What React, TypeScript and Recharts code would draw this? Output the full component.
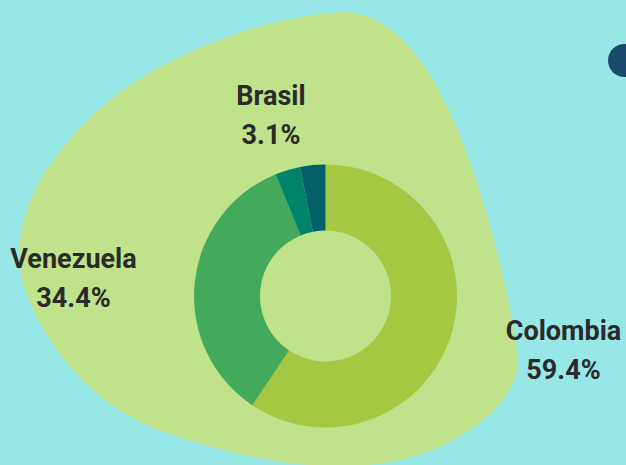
import React from 'react';
import { PieChart, Pie, Cell } from 'recharts';

const countries = ['Colombia', 'Venezuela', 'Brasil', 'Otros'];
const shares = [59.4, 34.4, 3.1, 3.1];
const sliceColors = ['#a5c742', '#44aa5b', '#00836b', '#03606b'];
const labelled = [true, true, true, false];

const data = countries.map((name, i) => ({ name, value: shares[i] }));

// where each label block sits, relative to the donut centre (name baseline)
const labelOffset = [
  { dx: 238, dy: 44 },
  { dx: -252, dy: -28 },
  { dx: -54.5, dy: -191 },
];

const W = 626;
const H = 465;

const renderLabel = (props: any) => {
  const { cx, cy, index, name, value } = props;
  if (!labelled[index]) return null;
  const off = labelOffset[index];
  const x = cx + off.dx;
  const y = cy + off.dy;
  return (
    <g>
      <text x={x} y={y} textAnchor="middle" fill="#2a2a2a" fontSize={27} fontWeight={700} fontFamily="Roboto, sans-serif">
        {name}
      </text>
      <text x={x} y={y + 39} textAnchor="middle" fill="#2a2a2a" fontSize={27} fontWeight={700} fontFamily="Roboto, sans-serif">
        {value.toFixed(1)}%
      </text>
    </g>
  );
};

export default function App() {
  return (
    <div style={{ position: 'absolute', left: 0, top: 0, width: W, height: H, background: '#97e7e7', overflow: 'hidden' }}>
      <svg width={W} height={H} style={{ position: 'absolute', left: 0, top: 0 }}>
        <path
          d="M 340 12 C 390 10, 430 60, 460 135 C 490 210, 510 300, 518 355 C 522 400, 465 445, 400 460 C 330 476, 240 460, 160 430 C 90 405, 40 340, 22 280 C 10 220, 40 160, 110 100 C 180 45, 280 15, 340 12 Z"
          fill="#bfe28b"
        />
        <circle cx={624.5} cy={60.5} r={16.5} fill="#1a4a6b" />
      </svg>
      <div style={{ position: 'absolute', left: 0, top: 0 }}>
        <PieChart width={W} height={H} margin={{ top: 0, right: 0, bottom: 0, left: 0 }}>
          <Pie
            data={data}
            dataKey="value"
            nameKey="name"
            cx={325.5}
            cy={296}
            innerRadius={65.5}
            outerRadius={131.5}
            startAngle={90}
            endAngle={-270}
            stroke="none"
            label={renderLabel}
            labelLine={false}
            isAnimationActive={false}
          >
            {data.map((d, i) => (
              <Cell key={d.name} fill={sliceColors[i]} />
            ))}
          </Pie>
        </PieChart>
      </div>
    </div>
  );
}
